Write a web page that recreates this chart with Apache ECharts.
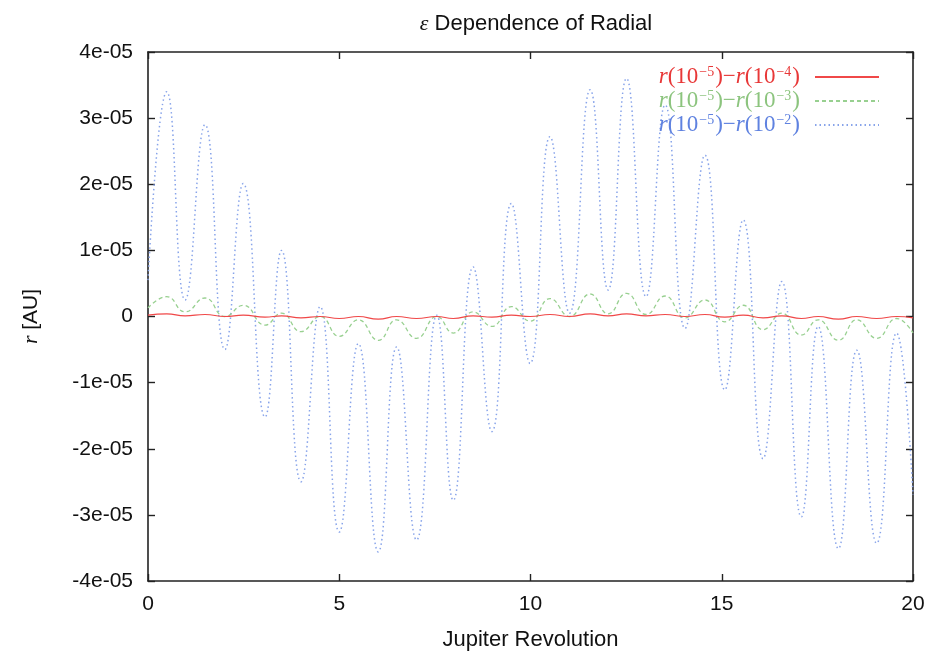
<!DOCTYPE html>
<html>
<head>
<meta charset="utf-8">
<script src="https://cdn.jsdelivr.net/npm/echarts@6/dist/echarts.min.js"></script>
<style>
html,body{margin:0;padding:0;background:#fff;}
#chart{width:931px;height:658px;}
</style>
</head>
<body>
<div id="chart"></div>
<script>
// Jupiter revolution times of the sampled extrema
const times = [0, 0.49, 0.97, 1.49, 2.01, 2.49, 3.06, 3.49, 4.0, 4.5, 5.0, 5.5, 6.02, 6.5, 7.02, 7.55, 7.98, 8.5, 8.99, 9.5, 9.99, 10.51, 11.02, 11.56, 12.03, 12.51, 13.02, 13.52, 14.04, 14.56, 15.08, 15.56, 16.08, 16.57, 17.08, 17.52, 18.05, 18.53, 19.05, 19.57, 20];

// r(1e-5) - r(1e-2)  [AU]
const blueValues = [0.55e-5, 3.40e-5, 0.25e-5, 2.90e-5, -0.50e-5, 2.01e-5, -1.52e-5, 1.00e-5, -2.50e-5, 0.15e-5, -3.26e-5, -0.41e-5, -3.56e-5, -0.46e-5, -3.38e-5, 0.02e-5, -2.78e-5, 0.75e-5, -1.74e-5, 1.71e-5, -0.71e-5, 2.72e-5, 0.05e-5, 3.43e-5, 0.40e-5, 3.60e-5, 0.30e-5, 3.20e-5, -0.18e-5, 2.44e-5, -1.11e-5, 1.46e-5, -2.15e-5, 0.53e-5, -3.03e-5, -0.15e-5, -3.51e-5, -0.51e-5, -3.43e-5, -0.25e-5, -2.70e-5];

// r(1e-5) - r(1e-3)  [AU]
const greenValues = [0.13e-5, 0.30e-5, 0.07e-5, 0.28e-5, 0.0, 0.17e-5, -0.13e-5, 0.05e-5, -0.23e-5, 0.0, -0.30e-5, -0.05e-5, -0.36e-5, -0.05e-5, -0.33e-5, 0.0, -0.25e-5, 0.07e-5, -0.15e-5, 0.15e-5, -0.07e-5, 0.27e-5, 0.0, 0.34e-5, 0.04e-5, 0.35e-5, 0.03e-5, 0.31e-5, -0.02e-5, 0.25e-5, -0.08e-5, 0.17e-5, -0.20e-5, 0.05e-5, -0.28e-5, -0.05e-5, -0.36e-5, -0.05e-5, -0.33e-5, -0.03e-5, -0.25e-5];

// r(1e-5) - r(1e-4)  [AU]
const redValues = [0.02e-5, 0.04e-5, 0.01e-5, 0.03e-5, 0.0, 0.02e-5, -0.01e-5, 0.01e-5, -0.02e-5, 0.0, -0.03e-5, 0.0, -0.04e-5, 0.0, -0.03e-5, 0.0, -0.03e-5, 0.01e-5, -0.01e-5, 0.02e-5, 0.0, 0.03e-5, 0.0, 0.04e-5, 0.01e-5, 0.04e-5, 0.01e-5, 0.03e-5, 0.0, 0.03e-5, -0.01e-5, 0.02e-5, -0.02e-5, 0.01e-5, -0.03e-5, 0.0, -0.04e-5, 0.0, -0.03e-5, 0.0, -0.02e-5];

const seriesNames = ['r(1e-5)-r(1e-4)', 'r(1e-5)-r(1e-3)', 'r(1e-5)-r(1e-2)'];
const legendExponents = [['−5', '−4'], ['−5', '−3'], ['−5', '−2']];
const xTickLabels = ['0', '5', '10', '15', '20'];
const yTickLabels = ['-4e-05', '-3e-05', '-2e-05', '-1e-05', '0', '1e-05', '2e-05', '3e-05', '4e-05'];

const colors = ['#f04848', '#98d090', '#88a4ea'];
const textColors = ['#e83838', '#8cc47e', '#5f82e0'];

function pairs(vals) { return times.map((t, i) => [t, vals[i]]); }

const chart = echarts.init(document.getElementById('chart'), null, {renderer: 'canvas'});

const axisLine = {show: true, onZero: false, lineStyle: {color: '#222', width: 1.6}};
const tickIn = {show: true, inside: true, length: 7, lineStyle: {color: '#222', width: 1.4}};
const sans = 'Liberation Sans, Arial, sans-serif';
const labelFont = {fontFamily: sans, fontSize: 21, color: '#111'};

const legendRich = {
  r: {fontFamily: 'Liberation Serif, serif', fontStyle: 'italic', fontSize: 23, lineHeight: 24},
  n: {fontFamily: 'Liberation Serif, serif', fontSize: 23, lineHeight: 24},
  s: {fontFamily: 'Liberation Serif, serif', fontSize: 14, verticalAlign: 'top', lineHeight: 24, padding: [0, 1, 10, 1]}
};

chart.setOption({
  backgroundColor: '#fff',
  animation: false,
  title: {
    text: '{e|ε} Dependence of Radial',
    left: 531, top: 8, textAlign: 'center',
    textStyle: {fontFamily: sans, fontSize: 22, fontWeight: 'normal', color: '#111',
      rich: {e: {fontFamily: 'Liberation Serif, serif', fontStyle: 'italic', fontSize: 22, color: '#111'}}}
  },
  grid: {left: 148, right: 18, top: 52, bottom: 77},
  legend: {
    right: 46, top: 60, orient: 'vertical', align: 'right', itemGap: 0,
    itemWidth: 64, itemHeight: 14,
    itemStyle: {opacity: 0},
    data: seriesNames.map((n, i) => ({name: n, textStyle: {color: textColors[i]}})),
    formatter: function (name) {
      const i = seriesNames.indexOf(name);
      const e = legendExponents[i];
      return '{r|r}{n|(10}{s|' + e[0] + '}{n|)−}{r|r}{n|(10}{s|' + e[1] + '}{n|)}';
    },
    textStyle: {rich: legendRich, padding: [0, 10, 0, 0]}
  },
  xAxis: [{
    type: 'value', min: 0, max: 20, interval: 5,
    axisLine: axisLine, axisTick: tickIn, splitLine: {show: false},
    axisLabel: Object.assign({margin: 13, formatter: v => xTickLabels[Math.round(v / 5)]}, labelFont),
    name: 'Jupiter Revolution', nameLocation: 'middle', nameGap: 48,
    nameTextStyle: {fontFamily: sans, fontSize: 22, color: '#111'}
  }, {
    type: 'value', min: 0, max: 20, interval: 5, position: 'top',
    axisLine: axisLine, axisTick: tickIn, splitLine: {show: false}, axisLabel: {show: false}
  }],
  yAxis: [{
    type: 'value', min: -4e-5, max: 4e-5, interval: 1e-5,
    axisLine: axisLine, axisTick: tickIn, splitLine: {show: false},
    axisLabel: Object.assign({margin: 15, formatter: v => yTickLabels[Math.round(v / 1e-5) + 4]}, labelFont),
    name: '{i|r} [AU]', nameLocation: 'middle', nameGap: 106, nameRotate: 90,
    nameTextStyle: {fontFamily: sans, fontSize: 21, color: '#111',
      rich: {i: {fontFamily: 'Liberation Serif, serif', fontStyle: 'italic', fontSize: 22, color: '#111'}}}
  }, {
    type: 'value', min: -4e-5, max: 4e-5, interval: 1e-5, position: 'right',
    axisLine: axisLine, axisTick: tickIn, splitLine: {show: false}, axisLabel: {show: false}
  }],
  series: [{
    name: seriesNames[0], type: 'line', data: pairs(redValues), smooth: 0.5, showSymbol: false, symbol: 'none',
    lineStyle: {color: colors[0], width: 1.2, type: 'solid'}, itemStyle: {color: colors[0]}, z: 4
  }, {
    name: seriesNames[1], type: 'line', data: pairs(greenValues), smooth: 0.5, showSymbol: false, symbol: 'none',
    lineStyle: {color: colors[1], width: 1.3, type: [4, 3]}, itemStyle: {color: colors[1]}, z: 3
  }, {
    name: seriesNames[2], type: 'line', data: pairs(blueValues), smooth: 0.5, showSymbol: false, symbol: 'none',
    lineStyle: {color: colors[2], width: 1.5, type: [1.5, 3]}, itemStyle: {color: colors[2]}, z: 2
  }]
});
</script>
</body>
</html>
